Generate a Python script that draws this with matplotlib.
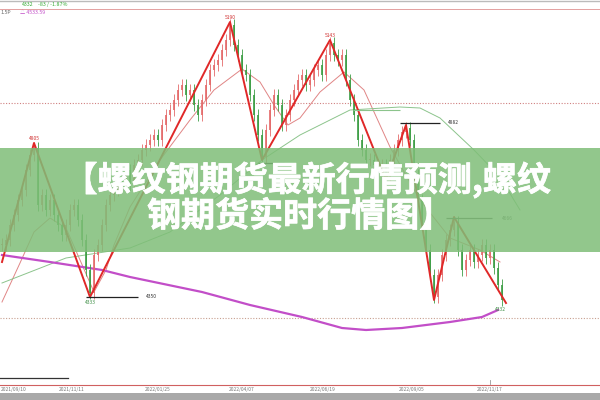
import matplotlib.pyplot as plt
from matplotlib.patches import Rectangle
import matplotlib.patheffects as pe
import numpy as np

plt.rcParams['font.family'] = ['Noto Sans CJK SC', 'DejaVu Sans']

# daily closes
closes = [4525, 4540, 4585, 4615, 4660, 4690, 4750, 4795, 4816, 4645,
          4675, 4630, 4660, 4615, 4585, 4555, 4585, 4630, 4645, 4600,
          4540, 4450, 4380, 4495, 4525, 4585, 4645, 4675, 4690, 4735,
          4720, 4750, 4705, 4765, 4780, 4810, 4825, 4840, 4855, 4840,
          4885, 4915, 4930, 4960, 4990, 5005, 4975, 4990, 4945, 4915,
          4960, 5005, 5050, 5065, 5080, 5110, 5140, 5185, 5125, 5095,
          5050, 5035, 4975, 4915, 4855, 4790, 4870, 4930, 4975, 4945,
          4885, 4915, 4960, 4990, 5020, 5035, 5005, 5020, 5050, 5065,
          5035, 5095, 5130, 5095, 5080, 5095, 5020, 4960, 4915, 4840,
          4810, 4780, 4780, 4765, 4750, 4765, 4726, 4780, 4810, 4840,
          4864, 4876, 4840, 4735, 4660, 4585, 4510, 4435, 4370, 4435,
          4495, 4540, 4570, 4594, 4510, 4450, 4480, 4510, 4474, 4495,
          4525, 4486, 4510, 4456, 4405, 4360]

# moving averages (bar index, price)
ma_red_x = [0, 4.5, 8, 12, 16, 19.5, 23, 26, 28, 32, 39.5, 47, 53, 60, 64.5,
            68, 71.5, 74.5, 79.5, 85.5, 90.5, 97, 104.5, 112, 119.5, 124.5]
ma_red = [4354, 4471, 4564, 4606, 4576, 4480, 4384, 4450, 4525, 4639, 4780,
          4900, 4990, 5053, 5014, 4945, 4885, 4906, 4984, 5044, 4990, 4819,
          4660, 4546, 4510, 4474]
ma_green_x = [0, 16, 32, 42, 54.5, 65, 74.5, 87, 99.5, 104.5, 109.5, 118, 124.5, 129.5]
ma_green = [4411, 4486, 4516, 4564, 4675, 4780, 4855, 4930, 4939, 4936, 4906,
            4810, 4729, 4630]
ma_long_x = [0, 12, 25, 32, 50, 62, 75, 85, 91, 100, 112, 120, 124]
ma_long = [4495, 4474, 4450, 4429, 4384, 4345, 4309, 4276, 4270, 4276, 4294,
           4309, 4330]

# zigzag turning points
zz_x = [0, 8, 22, 57, 65, 82, 96, 101, 108, 113, 126]
zz_p = [4474, 4831, 4369, 5194, 4780, 5140, 4720, 4885, 4360, 4609, 4351]

dates = ['2021/09/10', '2021/11/11', '2022/01/25', '2022/04/07',
         '2022/06/19', '2022/09/05', '2022/11/17']
date_px = [8, 72, 158, 242, 323, 412, 490]

fig = plt.figure(figsize=(6, 4), dpi=100)
ax = fig.add_axes([0, 0, 1, 1])
ax.set_xlim(-0.5, 149.5)
ax.set_ylim(4060, 5260)
ax.axis('off')


def fx(px):
    return px / 600


def fy(py):
    return 1 - py / 400


closes = np.array(closes, dtype=float)
opens = np.concatenate([[closes[0]], closes[:-1]])
idx = np.arange(len(closes))
up = closes >= opens
cols = np.where(up, '#e46a6a', '#3d9e45')
low = np.minimum(opens, closes)
height = np.maximum(np.abs(closes - opens), 4)
ax.vlines(idx, low - 18, low + height + 18, colors=cols, lw=0.6, zorder=3)
ax.bar(idx, height, bottom=low, width=0.6, color=cols, alpha=0.85, lw=0, zorder=3)

# dotted levels
ax.axhline(4951, color='#d08080', lw=0.8, ls=(0, (1, 1.5)), zorder=1)
ax.axhline(4306, color='#c8a090', lw=0.8, ls=(0, (1, 1.5)), zorder=1)

ax.plot(ma_red_x, ma_red, color='#e08585', lw=0.7, zorder=2)
ax.plot(ma_green_x, ma_green, color='#8cc48c', lw=0.7, zorder=2)
ax.plot(ma_long_x, ma_long, color='#c24ec8', lw=1.6, zorder=2)
ax.plot(zz_x, zz_p, color='#e02828', lw=1.4, zorder=4)

# support / resistance marks
ax.hlines(4369, 21, 34, color='#222222', lw=0.9, zorder=4)
ax.hlines(4771, 64, 70.5, color='#222222', lw=0.9, zorder=4)
ax.hlines(4891, 99.5, 109.5, color='#222222', lw=0.9, zorder=4)
ax.hlines(4606, 111, 122.5, color='#555555', lw=0.9, zorder=4)
ax.hlines(4930, 87.75, 99.5, color='#8cc48c', lw=0.8, zorder=4)
ax.text(36, 4369, '4350', fontsize=3.5, color='#333333', va='center')
ax.text(111.5, 4891, '4882', fontsize=3.5, color='#333333', va='center')
ax.text(125, 4606, '4666', fontsize=3.5, color='#555555', va='center')

ax.text(8, 4838, '4805', fontsize=3.5, color='#d03030', ha='center', va='bottom')
ax.text(22, 4360, '4333', fontsize=3.5, color='#3d8e45', ha='center', va='top')
ax.text(57, 5200, '5190', fontsize=3.5, color='#d03030', ha='center', va='bottom')
ax.text(82, 5146, '5143', fontsize=3.5, color='#d03030', ha='center', va='bottom')
ax.text(124.5, 4340, '4332', fontsize=3.5, color='#3d8e45', ha='center', va='top')

# header
fig.add_artist(plt.Line2D([0, 1], [fy(1), fy(1)], color='#bbbbbb', lw=1))
fig.add_artist(plt.Line2D([0, 1], [fy(8.5), fy(8.5)], color='#e3a0a0', lw=0.7))
fig.text(fx(22), fy(4.5), '4332', fontsize=3.8, color='#33aa33', va='center')
fig.text(fx(38), fy(4.5), '-83 / -1.87%', fontsize=3.8, color='#33aa33', va='center')
fig.text(fx(0), fy(12), '1.5P', fontsize=3.8, color='#666666', va='center')
fig.text(fx(20), fy(12), '△ 4533.59', fontsize=3.8, color='#c24ec8', va='center')

# bottom time axis
fig.add_artist(plt.Line2D([0, 1], [fy(384.5), fy(384.5)], color='#d06060', lw=0.8))
fig.add_artist(plt.Line2D([0, fx(68)], [fy(378), fy(378)], color='#333333', lw=0.9))
fig.add_artist(plt.Line2D([fx(490), fx(490)], [fy(380), fy(384)], color='#999999', lw=0.6))
for i, (d, px) in enumerate(zip(dates, date_px)):
    if i == 0:
        fig.text(fx(0.5), fy(389.5), d, fontsize=3.5, color='#777777', ha='left', va='center')
    else:
        fig.text(fx(px), fy(389.5), d, fontsize=3.5, color='#777777', ha='center', va='center')
fig.add_artist(Rectangle((0, 0), 1, fy(393), transform=fig.transFigure,
                         color='#a9a9a9', lw=0))

# title banner
fig.add_artist(Rectangle((0, fy(252)), 1, (252 - 148) / 400, transform=fig.transFigure,
                         facecolor='#7fbe78', alpha=0.85, lw=0, zorder=5))
thick = [pe.withStroke(linewidth=0.5, foreground='white')]
fig.text(0.5 + 7 / 600, fy(180), '【螺纹钢期货最新行情预测,螺纹', fontsize=24.5,
         fontweight='heavy', color='white', ha='center', va='center', zorder=6,
         path_effects=thick)
fig.text(0.5, fy(216), '钢期货实时行情图】', fontsize=24.5, fontweight='heavy',
         color='white', ha='center', va='center', zorder=6, path_effects=thick)

fig.savefig('out.png', dpi=100)
